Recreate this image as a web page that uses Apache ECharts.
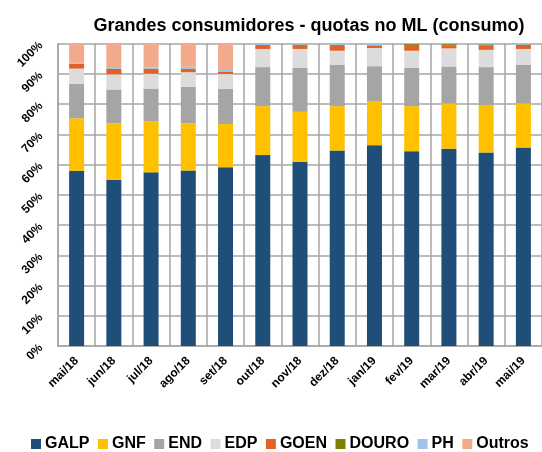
<!DOCTYPE html>
<html>
<head>
<meta charset="utf-8">
<script src="https://cdn.jsdelivr.net/npm/echarts@6/dist/echarts.min.js"></script>
<style>
  html, body { margin: 0; padding: 0; background: #fff; }
  #chart { width: 542px; height: 452px; }
</style>
</head>
<body>
<div id="chart"></div>
<script>
// meses
var categories = ['mai/18', 'jun/18', 'jul/18', 'ago/18', 'set/18', 'out/18', 'nov/18',
                  'dez/18', 'jan/19', 'fev/19', 'mar/19', 'abr/19', 'mai/19'];
// quotas (%)
var galp   = [57.9, 55.0, 57.4, 58.0, 59.1, 63.1, 60.9, 64.6, 66.4, 64.4, 65.2, 64.0, 65.6];
var gnf    = [17.4, 18.6, 16.9, 15.6, 14.3, 16.2, 16.5, 14.7, 14.6, 14.9, 15.0, 15.7, 14.6];
var endd   = [11.3, 11.2, 10.8, 12.1, 11.6, 12.9, 14.5, 13.6, 11.5, 12.6, 12.2, 12.5, 12.7];
var edp    = [5.1, 5.0, 4.9, 4.8, 4.9, 6.0, 6.3, 4.7, 6.0, 5.7, 6.0, 5.7, 5.3];
var goen   = [1.6, 1.8, 1.6, 1.1, 0.7, 1.3, 1.4, 1.9, 0.9, 1.9, 1.0, 1.4, 1.0];
var douro  = [0, 0, 0, 0, 0, 0, 0, 0, 0, 0.3, 0.4, 0.4, 0.4];
var ph     = [0.3, 0.6, 0.5, 0.7, 1.0, 0.5, 0.4, 0.5, 0.6, 0.2, 0.2, 0.3, 0.4];
var outros = [6.4, 7.8, 7.9, 7.7, 8.4, 0, 0, 0, 0, 0, 0, 0, 0];
var yTicks = ['0%', '10%', '20%', '30%', '40%', '50%', '60%', '70%', '80%', '90%', '100%'];

var names  = ['GALP', 'GNF', 'END', 'EDP', 'GOEN', 'DOURO', 'PH', 'Outros'];
var values = [galp, gnf, endd, edp, goen, douro, ph, outros];
var colors = ['#1F4E79', '#FFC000', '#A5A5A5', '#DCDCDC', '#E46125', '#7F7F00', '#9DC3E6', '#F2AA8A'];

var font = 'Liberation Sans, Arial, sans-serif';
var gridColor = '#A6A6A6';

var series = [];
for (var i = 0; i < names.length; i++) {
  series.push({
    name: names[i],
    type: 'bar',
    stack: 'total',
    barWidth: 15,
    data: values[i],
    itemStyle: { color: colors[i] }
  });
}

var myChart = echarts.init(document.getElementById('chart'), null, { renderer: 'canvas' });
var option = {
  animation: false,
  color: colors,
  title: {
    text: 'Grandes consumidores - quotas no ML (consumo)',
    left: 304,
    textAlign: 'center',
    top: 12,
    textStyle: { fontFamily: font, fontSize: 18, fontWeight: 'bold', color: '#000' }
  },
  legend: {
    top: 436,
    left: 31,
    width: 530,
    padding: 0,
    itemWidth: 10,
    itemHeight: 10,
    itemGap: 8.5,
    icon: 'rect',
    data: names,
    textStyle: { fontFamily: font, fontSize: 16, fontWeight: 'bold', color: '#000', padding: [0, 0, 0, -1] }
  },
  grid: {
    left: 58,
    top: 43.5,
    width: 489,
    height: 302.5
  },
  xAxis: {
    type: 'category',
    data: categories,
    axisTick: { show: false },
    axisLine: { lineStyle: { color: gridColor, width: 1.5 } },
    splitLine: { show: true, interval: 0, lineStyle: { color: gridColor, width: 1.5 } },
    axisLabel: {
      rotate: 45,
      interval: 0,
      margin: 13,
      fontFamily: font,
      fontSize: 12,
      fontWeight: 'bold',
      color: '#000'
    }
  },
  yAxis: {
    type: 'value',
    min: 0,
    max: 100,
    interval: 10,
    axisLine: { show: true, lineStyle: { color: gridColor, width: 1.5 } },
    axisTick: { show: false },
    splitLine: { lineStyle: { color: gridColor, width: 1.5 } },
    axisLabel: {
      rotate: 45,
      margin: 17,
      fontFamily: font,
      fontSize: 12,
      fontWeight: 'bold',
      color: '#000',
      formatter: function (v) { return yTicks[Math.round(v / 10)]; }
    }
  },
  series: series
};
myChart.setOption(option);
</script>
</body>
</html>
